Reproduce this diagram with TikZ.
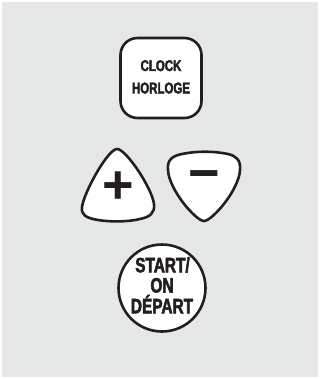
\documentclass[tikz,border=0pt]{standalone}
\usepackage{fontspec}
\newfontfamily\btnfont{Liberation Sans}[UprightFont=* Bold,FakeStretch=0.74,FakeBold=2.5]
\newfontfamily\symfont{Liberation Sans}[UprightFont=* Bold]
\definecolor{panel}{RGB}{230,232,231}
\definecolor{ink}{RGB}{35,31,32}
\begin{document}
\begin{tikzpicture}[x=1pt,y=-1pt,
  outline/.style={draw=ink,line width=2.6pt,fill=white,line join=round},
  lbl/.style={text=ink,anchor=base,inner sep=0pt},
  small/.style={lbl,font=\btnfont\fontsize{15.5}{18}\selectfont},
  large/.style={lbl,font=\btnfont\fontsize{20.8}{22}\selectfont},
  sym/.style={text=ink,inner sep=0pt,font=\symfont\fontsize{54}{54}\selectfont}
]
\useasboundingbox (0,0) rectangle (320,379);
\fill[panel] (2,2) rectangle (318,377);
% CLOCK button
\node[outline,rounded corners=17pt,minimum width=81pt,minimum height=80pt,inner sep=0pt] (clock) at (161,78) {};
\node[small] (clockA) at (161,71) {CLOCK};
\node[small] (clockB) at (161,93.4) {HORLOGE};
% plus button
\path[outline] (117,149) .. controls (108,149) and (84,192) .. (82,207)
  .. controls (81,215) and (86,218) .. (98,220)
  .. controls (110,222) and (128,222) .. (140,219)
  .. controls (150,217) and (155,213) .. (154,204)
  .. controls (152,188) and (126,149) .. (117,149) -- cycle;
\node[sym] (plus) at (118,188) {+};
% minus button
\path[outline] (204,221) .. controls (196,221) and (169,190) .. (168,170)
  .. controls (167,160) and (172,156) .. (182,154)
  .. controls (196,151) and (214,151) .. (228,154)
  .. controls (236,156) and (241,160) .. (240,170)
  .. controls (239,190) and (212,221) .. (204,221) -- cycle;
\node[sym] (minus) at (204,181.5) {−};
% START button
\node[outline,circle,minimum size=87pt,inner sep=0pt] (start) at (162,288) {};
\node[large] (startA) at (162.5,272.3) {START/};
\node[large] (startB) at (162,292.5) {ON};
\node[large] (startC) at (162,313.3) {DÉPART};
\end{tikzpicture}
\end{document}
